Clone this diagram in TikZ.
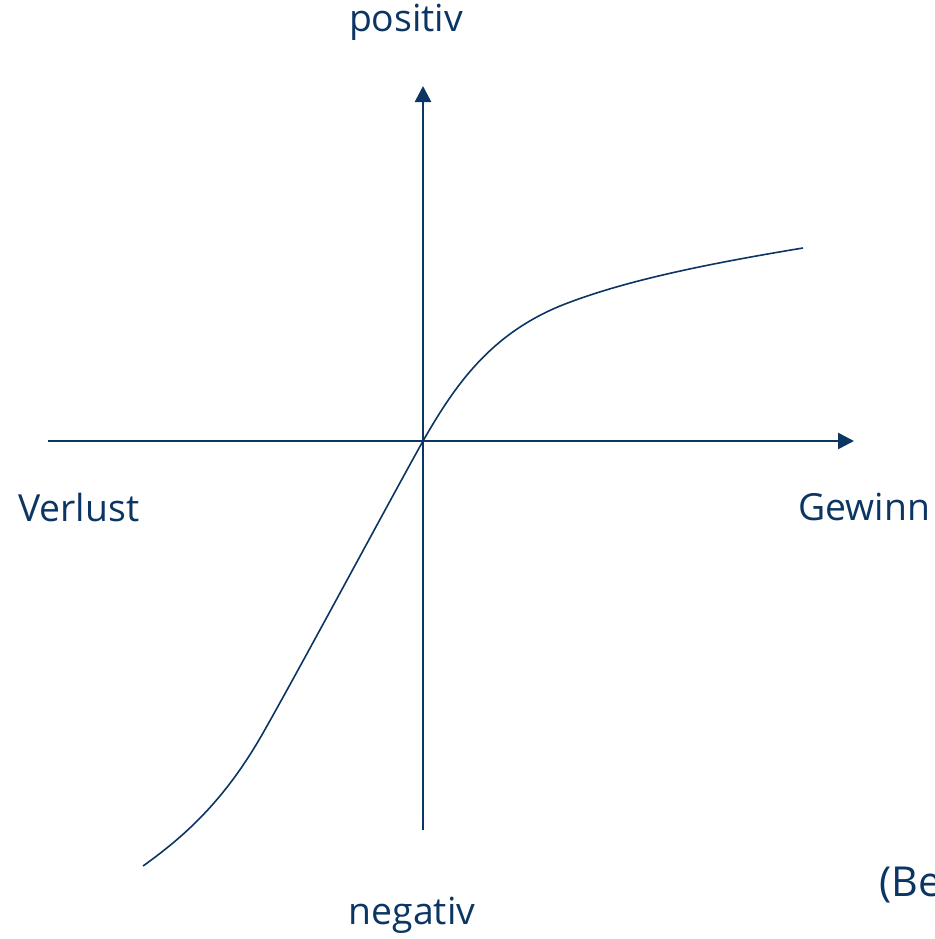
\documentclass[tikz,border=0pt]{standalone}
\usepackage{fontspec}
\setmainfont{Open Sans}
\usetikzlibrary{arrows.meta}
\definecolor{navy}{HTML}{0B3563}
\begin{document}
\begin{tikzpicture}[x=0.75pt,y=-0.75pt,
  axis/.style={draw=navy,line width=2pt,-{Triangle[length=12pt,width=12pt]}},
  lbl/.style={text=navy,font=\fontsize{28}{33}\selectfont,inner sep=0pt},
  curve/.style={draw=navy,line width=1.2pt}]
\useasboundingbox (0,0) rectangle (935,939);
\coordinate (xs) at (48,441);
\coordinate (xe) at (854,441);
\coordinate (ys) at (423,830);
\coordinate (ye) at (423,86);
\draw[axis] (xs) -- (xe);
\draw[axis] (ys) -- (ye);
\node[lbl] (pos) at (406,22) {positiv};
\node[lbl] (neg) at (412,915) {negativ};
\node[lbl,anchor=west] (ver) at (18,507) {Verlust};
\node[lbl,anchor=west] (gew) at (798,507) {Gewinn};
\node[lbl,anchor=west,font=\fontsize{31}{36}\selectfont] (be) at (879,885) {(Be};
\coordinate (c0) at (143,866);
\coordinate (c1) at (263,733);
\coordinate (c2) at (423,441);
\coordinate (c3) at (560,306);
\coordinate (c4) at (803,248);
\draw[curve] (c0) .. controls (185,836) and (225,800) .. (c1)
  .. controls (300,668) and (390,500) .. (c2)
  .. controls (455,385) and (490,335) .. (c3)
  .. controls (620,282) and (700,265) .. (c4);
\end{tikzpicture}
\end{document}
